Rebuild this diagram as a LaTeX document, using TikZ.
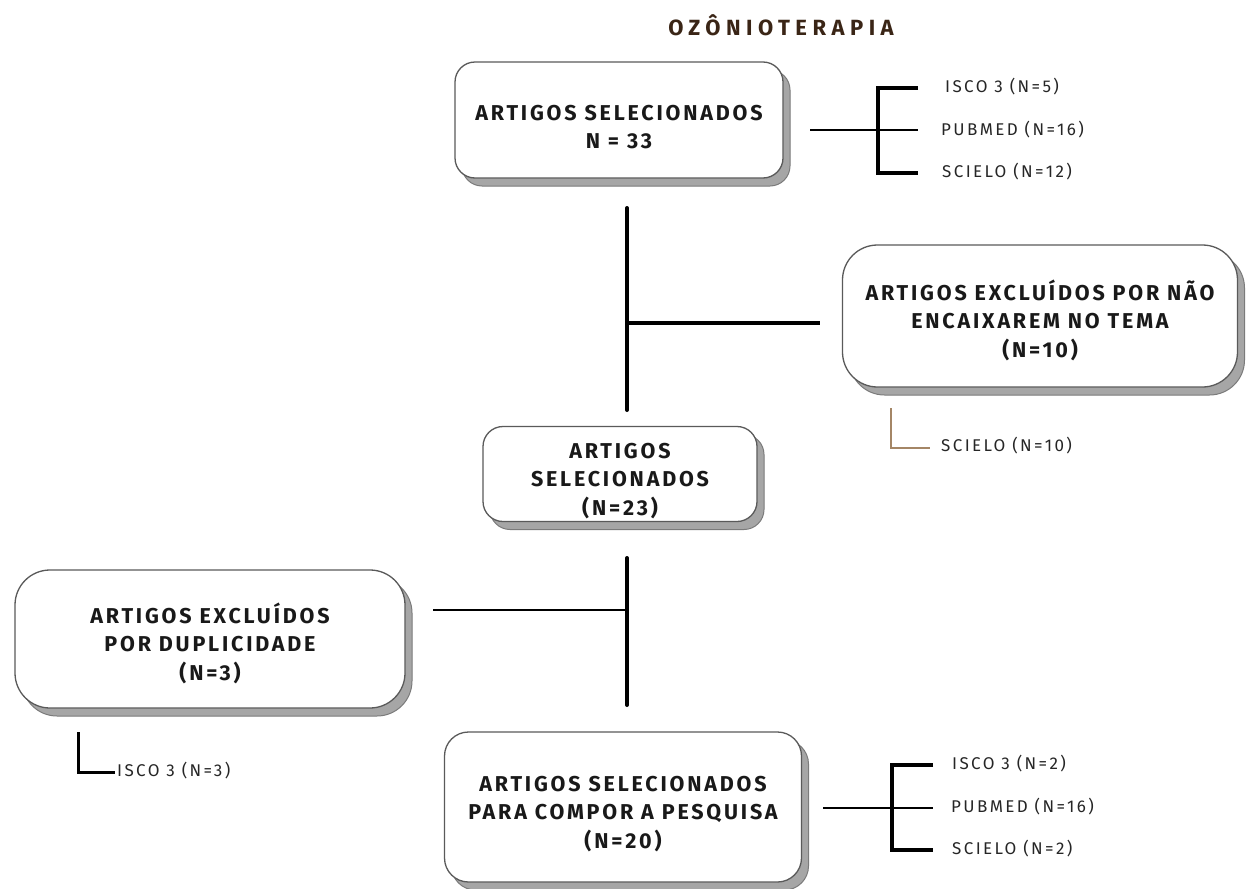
\documentclass[tikz,border=0pt]{standalone}
\usepackage{fontspec}
\setmainfont{Fira Sans}
\newfontfamily\boxfont[LetterSpace=13]{Fira Sans}
\newfontfamily\labfont[LetterSpace=14]{Fira Sans}
\newfontfamily\titfont[LetterSpace=25]{Fira Sans}
\usetikzlibrary{shadows}
\definecolor{titbrown}{HTML}{3A2516}
\definecolor{lbrown}{HTML}{A48666}
\definecolor{shadowgray}{HTML}{A6A6A6}
\definecolor{edgegray}{HTML}{5A5A5A}
\newcommand{\topstrut}{\rule{0pt}{29pt}}
\tikzset{
  flowbox/.style={draw=edgegray, line width=1.3pt, fill=white, rounded corners=#1,
    align=center, inner sep=0pt, text=black!90,
    font=\boxfont\bfseries\fontsize{21.5}{28.5}\selectfont,
    copy shadow={shadow xshift=7pt, shadow yshift=-8pt, fill=shadowgray, draw=edgegray!80, line width=1pt}},
  flowbox/.default=22pt,
  trunk/.style={line width=4pt, line cap=round, black},
  branch/.style={line width=3.2pt, black},
  thin/.style={line width=2.5pt, black},
  lab/.style={anchor=west, inner sep=0pt, font=\labfont\fontsize{17}{19}\selectfont, text=black!85},
}
\begin{document}
\begin{tikzpicture}[x=1pt,y=-1pt]
\useasboundingbox (0,0) rectangle (1248,889);
\fill[white] (0,0) rectangle (1248,889);

\node[font=\titfont\bfseries\fontsize{22}{24}\selectfont, text=titbrown] (title) at (781,25) {OZÔNIOTERAPIA};

\node[flowbox=20pt, minimum width=328pt, minimum height=116pt] (b1) at (619,120) {\topstrut ARTIGOS SELECIONADOS\\N = 33};
\node[flowbox=35pt, minimum width=395pt, minimum height=142pt] (b2) at (1040,316) {\topstrut ARTIGOS EXCLUÍDOS POR NÃO\\ENCAIXAREM NO TEMA\\(N=10)};
\node[flowbox=20pt, minimum width=274pt, minimum height=95pt] (b3) at (620,474) {\topstrut ARTIGOS\\SELECIONADOS\\(N=23)};
\node[flowbox=35pt, minimum width=390pt, minimum height=138pt] (b4) at (210,639) {\topstrut ARTIGOS EXCLUÍDOS\\POR DUPLICIDADE\\(N=3)};
\node[flowbox=24pt, minimum width=357pt, minimum height=150pt] (b5) at (623,807) {\topstrut ARTIGOS SELECIONADOS\\PARA COMPOR A PESQUISA\\(N=20)};

% top sources
\coordinate (s1) at (810,130);
\coordinate (k1) at (878,130);
\coordinate (k1t) at (878,88);
\coordinate (k1b) at (878,173);
\node[lab] (l1a) at (945,87) {ISCO 3 (N=5)};
\node[lab] (l1b) at (941,130) {PUBMED (N=16)};
\node[lab] (l1c) at (942,172) {SCIELO (N=12)};
\draw[thin] (s1) -- (k1) -- ++(40,0);
\draw[branch] ([xshift=40pt]k1t) -- (k1t) -- (k1b) -- ++(40,0);

% first trunk
\coordinate (t1a) at (627,208);
\coordinate (t1b) at (627,410);
\coordinate (t1m) at (627,323);
\coordinate (t1e) at (820,323);
\draw[trunk] (t1a) -- (t1b);
\draw[trunk, line cap=butt] (t1m) -- (t1e);

% brown L
\coordinate (bl1) at (891,408);
\coordinate (bl2) at (891,448);
\coordinate (bl3) at (930,448);
\draw[lbrown, line width=2.5pt] (bl1) -- (bl2) -- (bl3);
\node[lab] (l2) at (941,446) {SCIELO (N=10)};

% second trunk
\coordinate (t2a) at (627,558);
\coordinate (t2b) at (627,705);
\coordinate (t2m) at (627,610);
\coordinate (t2e) at (433,610);
\draw[trunk] (t2a) -- (t2b);
\draw[thin] (t2m) -- (t2e);

% left L
\coordinate (ll1) at (78,732);
\coordinate (ll2) at (78,772);
\coordinate (ll3) at (115,772);
\draw[line width=3pt, black] (ll1) -- (ll2) -- (ll3);
\node[lab] (l3) at (117,771) {ISCO 3 (N=3)};

% bottom sources
\coordinate (s5) at (823,808);
\coordinate (k5) at (892,808);
\coordinate (k5t) at (892,765);
\coordinate (k5b) at (892,850);
\draw[thin] (s5) -- (k5) -- ++(41,0);
\draw[branch] ([xshift=41pt]k5t) -- (k5t) -- (k5b) -- ++(41,0);
\node[lab] (l5a) at (952,764) {ISCO 3 (N=2)};
\node[lab] (l5b) at (951,807) {PUBMED (N=16)};
\node[lab] (l5c) at (952,849) {SCIELO (N=2)};
\end{tikzpicture}
\end{document}
